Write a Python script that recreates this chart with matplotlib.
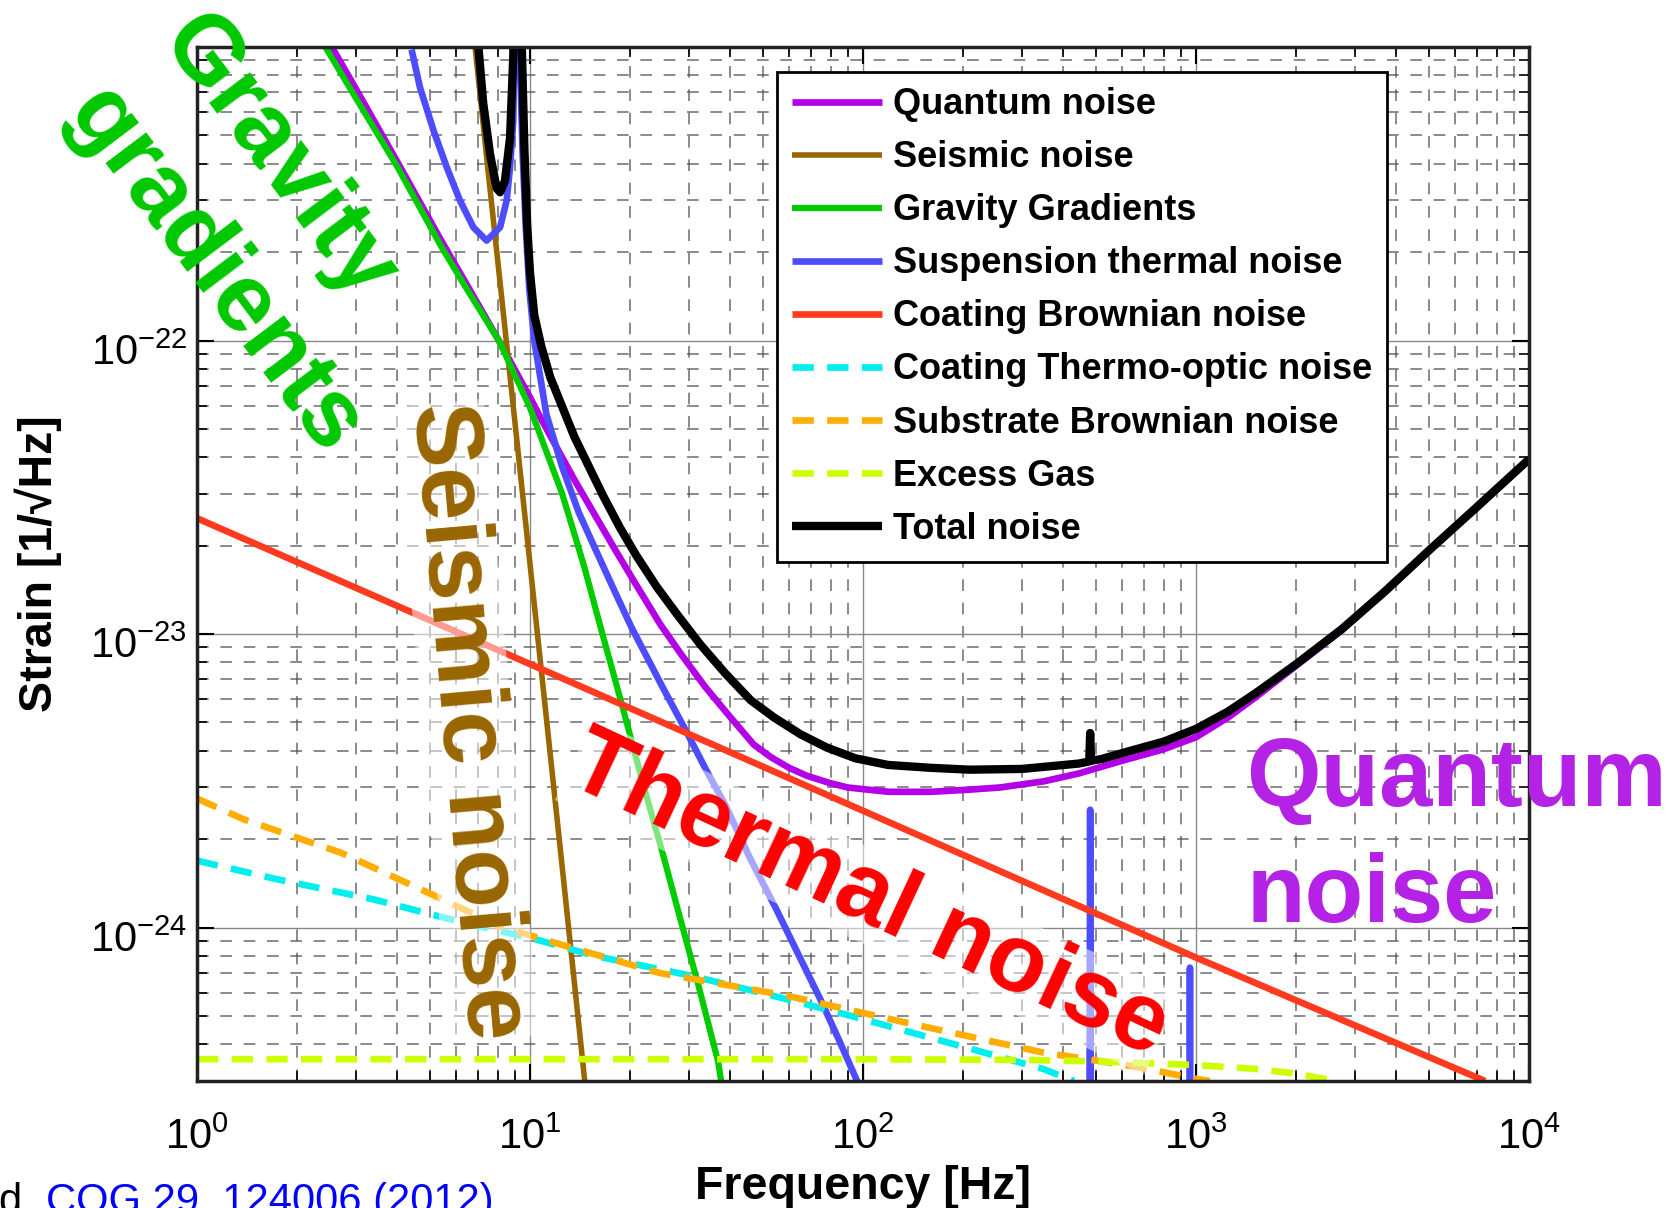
import matplotlib
matplotlib.use('Agg')
import matplotlib.pyplot as plt
import matplotlib.transforms as mtransforms
from matplotlib.ticker import LogLocator, NullFormatter

plt.rcParams['font.family'] = ['Liberation Sans', 'DejaVu Sans']
plt.rcParams['mathtext.fontset'] = 'custom'
plt.rcParams['mathtext.rm'] = 'Liberation Sans'
plt.rcParams['mathtext.default'] = 'regular'

# noise curves (frequency in Hz, strain in 1/sqrt(Hz))
quantum_f = [2.54, 3.0, 4.0, 5.4, 6.5, 8.1, 10.0, 10.9, 13.6, 18.1, 21, 24.6, 28.5, 33.6, 40, 47, 53,
             60, 67.8, 80, 90, 119, 160, 209, 258, 350, 445, 600, 800, 1000, 1250, 1514, 2000, 2742,
             3700, 4940, 7000, 10000]
quantum_y = [1e-21, 7.2e-22, 4.05e-22, 2.2e-22, 1.53e-22, 9.9e-23, 6.4e-23, 5.3e-23, 3.35e-23,
             1.92e-23, 1.45e-23, 1.08e-23, 8.5e-24, 6.6e-24, 5.2e-24, 4.2e-24, 3.8e-24, 3.5e-24,
             3.29e-24, 3.1e-24, 3.0e-24, 2.9e-24, 2.9e-24, 2.95e-24, 3.0e-24, 3.15e-24, 3.35e-24,
             3.7e-24, 4.05e-24, 4.45e-24, 5.2e-24, 6.1e-24, 7.8e-24, 1.03e-23, 1.39e-23, 1.89e-23,
             2.7e-23, 3.92e-23]

seis_f = [6.84, 7.5, 8.2, 8.93, 9.7, 10.6, 11.5, 12.5, 13.3, 14.6]
seis_y = [1e-21, 3.7e-22, 1.44e-22, 5.8e-23, 2.4e-23, 9.3e-24, 3.9e-24, 1.6e-24, 8.2e-25, 3.0e-25]

grav_f = [2.43, 3.0, 4.0, 5.4, 6.5, 8.06, 10.0, 12.5, 14.5, 16.2, 19.0, 22.0, 25.0, 28.4, 32.0, 36.7, 37.5]
grav_y = [1e-21, 6.7e-22, 3.9e-22, 2.1e-22, 1.48e-22, 1.0e-22, 5.9e-23, 3.0e-23, 1.72e-23, 1.08e-23,
          5.6e-24, 3.0e-24, 1.8e-24, 1.05e-24, 6.4e-25, 3.5e-25, 3.0e-25]

susp_f = [4.41, 4.67, 5.13, 5.62, 6.16, 6.76, 7.41, 8.13, 8.51, 8.71, 8.91, 9.1, 9.3, 9.5, 9.7, 9.95,
          10.3, 11.2, 12.5, 14, 15.7, 18, 20.2, 25, 29.2, 34, 38.7, 45.7, 55, 65, 75, 85, 96, 120,
          476, 481, 486, 950, 959, 968, 1200]
susp_y = [9.8e-22, 7.3e-22, 5.2e-22, 3.9e-22, 3.0e-22, 2.43e-22, 2.19e-22, 2.43e-22, 3.0e-22, 3.9e-22,
          5.6e-22, 5e-21, 1e-21, 4.4e-22, 2.5e-22, 1.5e-22, 1.0e-22, 5.6e-23, 3.7e-23, 2.6e-23,
          1.95e-23, 1.39e-23, 1.05e-23, 6.6e-24, 4.75e-24, 3.4e-24, 2.6e-24, 1.73e-24, 1.15e-24,
          7.8e-25, 5.6e-25, 4.1e-25, 3.0e-25, 1.6e-25, 1e-26, 2.52e-24, 1e-26, 5e-27, 7.3e-25,
          5e-27, 3e-27]

ctb_f = [1, 10, 100, 1000, 7380]
ctb_y = [2.48e-23, 7.9e-24, 2.5e-24, 7.9e-25, 3.0e-25]

cto_f = [1, 1.74, 3.36, 6.5, 10.1, 15.7, 30.5, 59, 92, 178, 347, 430]
cto_y = [1.69e-24, 1.46e-24, 1.25e-24, 1.03e-24, 9.2e-25, 8.0e-25, 6.85e-25, 5.7e-25, 5.0e-25,
         4.07e-25, 3.3e-25, 3.0e-25]

sub_f = [1, 1.39, 2.7, 5.2, 8.1, 12.6, 24.5, 59, 143, 344, 667, 1000, 1100]
sub_y = [2.75e-24, 2.33e-24, 1.80e-24, 1.28e-24, 1.01e-24, 8.7e-25, 7.0e-25, 5.86e-25, 4.67e-25,
         3.76e-25, 3.35e-25, 3.05e-25, 3.0e-25]

gas_f = [1, 10, 100, 300, 500, 1000, 1500, 2000, 2600]
gas_y = [3.56e-25, 3.56e-25, 3.56e-25, 3.54e-25, 3.5e-25, 3.4e-25, 3.3e-25, 3.18e-25, 3.0e-25]

total_f = [7.0, 7.24, 7.59, 7.94, 8.13, 8.41, 8.71, 8.91, 9.1, 9.45, 9.62, 9.8, 10.0, 10.3, 10.8, 11.5,
           13.6, 16.6, 18.6, 20.8, 24, 27.6, 32.5, 38.6, 46, 54, 65, 78, 95, 119, 160, 209, 300,
           445, 478, 481, 484, 520, 625, 800, 1000, 1250, 1514, 2000, 2742, 3700, 4940, 7000, 10000]
total_y = [1e-21, 6.4e-22, 4.3e-22, 3.3e-22, 3.2e-22, 3.5e-22, 4.9e-22, 9.4e-22, 1e-20, 1e-21,
           4.5e-22, 2.5e-22, 1.7e-22, 1.22e-22, 9.6e-23, 7.5e-23, 4.69e-23, 2.95e-23, 2.31e-23,
           1.86e-23, 1.45e-23, 1.17e-23, 9.2e-24, 7.34e-24, 5.95e-24, 5.2e-24, 4.55e-24, 4.1e-24,
           3.77e-24, 3.58e-24, 3.5e-24, 3.45e-24, 3.47e-24, 3.62e-24, 3.68e-24, 4.6e-24, 3.7e-24,
           3.75e-24, 3.98e-24, 4.3e-24, 4.75e-24, 5.45e-24, 6.3e-24, 7.9e-24, 1.04e-23, 1.4e-23,
           1.9e-23, 2.72e-23, 3.94e-23]

x_ticks = [1, 10, 100, 1000, 10000]
y_ticks = [1e-24, 1e-23, 1e-22]

fig = plt.figure(figsize=(16.67, 12.08), dpi=100)
ax = fig.add_axes([197/1667, 1-1081/1208, 1332/1667, 1034/1208])

lw = 4.8
dash = (0, (3.2, 2.0))
curves = [
    (quantum_f, quantum_y, '#b300e6', '-', lw, 'Quantum noise'),
    (seis_f, seis_y, '#996600', '-', 4.0, 'Seismic noise'),
    (grav_f, grav_y, '#00cc00', '-', 4.5, 'Gravity Gradients'),
    (susp_f, susp_y, '#4d4dff', '-', lw, 'Suspension thermal noise'),
    (ctb_f, ctb_y, '#ff3a1f', '-', lw, 'Coating Brownian noise'),
    (cto_f, cto_y, '#00eeee', dash, lw, 'Coating Thermo-optic noise'),
    (sub_f, sub_y, '#ffad00', dash, lw, 'Substrate Brownian noise'),
    (gas_f, gas_y, '#ccff00', dash, lw, 'Excess Gas'),
    (total_f, total_y, 'black', '-', 6.0, 'Total noise'),
]
handles = []
for f, y, c, ls, w, lab in curves:
    h, = ax.loglog(f, y, color=c, linestyle=ls, linewidth=w, label=lab,
                   solid_capstyle='butt', dash_capstyle='butt', solid_joinstyle='round')
    handles.append(h)

ax.set_xlim(1, 1e4)
ax.set_ylim(3e-25, 1e-21)
ax.set_xticks(x_ticks)
ax.set_yticks(y_ticks)
for axis in (ax.xaxis, ax.yaxis):
    axis.set_minor_locator(LogLocator(base=10, subs=range(2, 10), numticks=100))
    axis.set_minor_formatter(NullFormatter())

ax.set_axisbelow(True)
ax.grid(True, which='major', color='#888888', linestyle='-', linewidth=1.0)
ax.grid(True, which='minor', color='#555555', linestyle=(0, (7, 7)), linewidth=1.2, alpha=0.8)
ax.tick_params(which='both', direction='in', top=True, right=True, labelsize=30)
ax.tick_params(which='major', length=12, width=1.5)
ax.tick_params(which='minor', length=7, width=1.2)
ax.tick_params(axis='x', which='major', pad=26)
ax.tick_params(axis='y', which='major', pad=7)
# nudge y tick labels down a little, like the original
shift = mtransforms.ScaledTranslation(0, -6/72, fig.dpi_scale_trans)
for lab in ax.get_yticklabels():
    lab.set_transform(lab.get_transform() + shift)
for s in ax.spines.values():
    s.set_linewidth(2.5)
    s.set_color('#222222')

ax.set_xlabel('Frequency [Hz]', fontsize=33.5, fontweight='bold')
ax.xaxis.set_label_coords(0.5, -0.0812)
ax.set_ylabel('Strain [1/√Hz]', fontsize=33.5, fontweight='bold')
ax.yaxis.set_label_coords(-0.1014, 0.5)

leg = ax.legend(handles=handles, loc='upper right', bbox_to_anchor=(0.8934, 0.9758),
                borderaxespad=0, prop={'size': 26, 'weight': 'bold'}, fancybox=False,
                edgecolor='black', framealpha=1, labelspacing=0.5, handlelength=2.5,
                handletextpad=0.28, borderpad=0.42)
leg.get_frame().set_linewidth(2.0)

big = dict(fontsize=69, fontweight='bold', rotation_mode='anchor')
soft = dict(facecolor='white', alpha=0.5, edgecolor='none', pad=0)
fig.text(0.1664, 0.8697, 'Gravity', color='#00c800', rotation=-53, ha='center', va='center', **big)
fig.text(0.1283, 0.7752, 'gradients', color='#00c800', rotation=-53, ha='center', va='center', **big)
fig.text(0.2801, 0.4031, 'Seismic noise', color='#996600', rotation=-85, ha='center', va='center',
         bbox=soft, **big)
fig.text(0.521, 0.2577, 'Thermal noise', color='#ff0000', rotation=-25, ha='center', va='center',
         bbox=soft, **big)
fig.text(0.7475, 0.3328, 'Quantum', color='#b422e6', ha='left', va='baseline', **big)
fig.text(0.7475, 0.2368, 'noise', color='#b422e6', ha='left', va='baseline', **big)

fig.text(-2/1667, 1-1213/1208, 'd.', color='black', fontsize=30, ha='left', va='baseline')
fig.text(46/1667, 1-1213/1208, 'CQG 29, 124006 (2012)', color='#0000ff', fontsize=30,
         ha='left', va='baseline')

fig.savefig('out.png', dpi=100)
